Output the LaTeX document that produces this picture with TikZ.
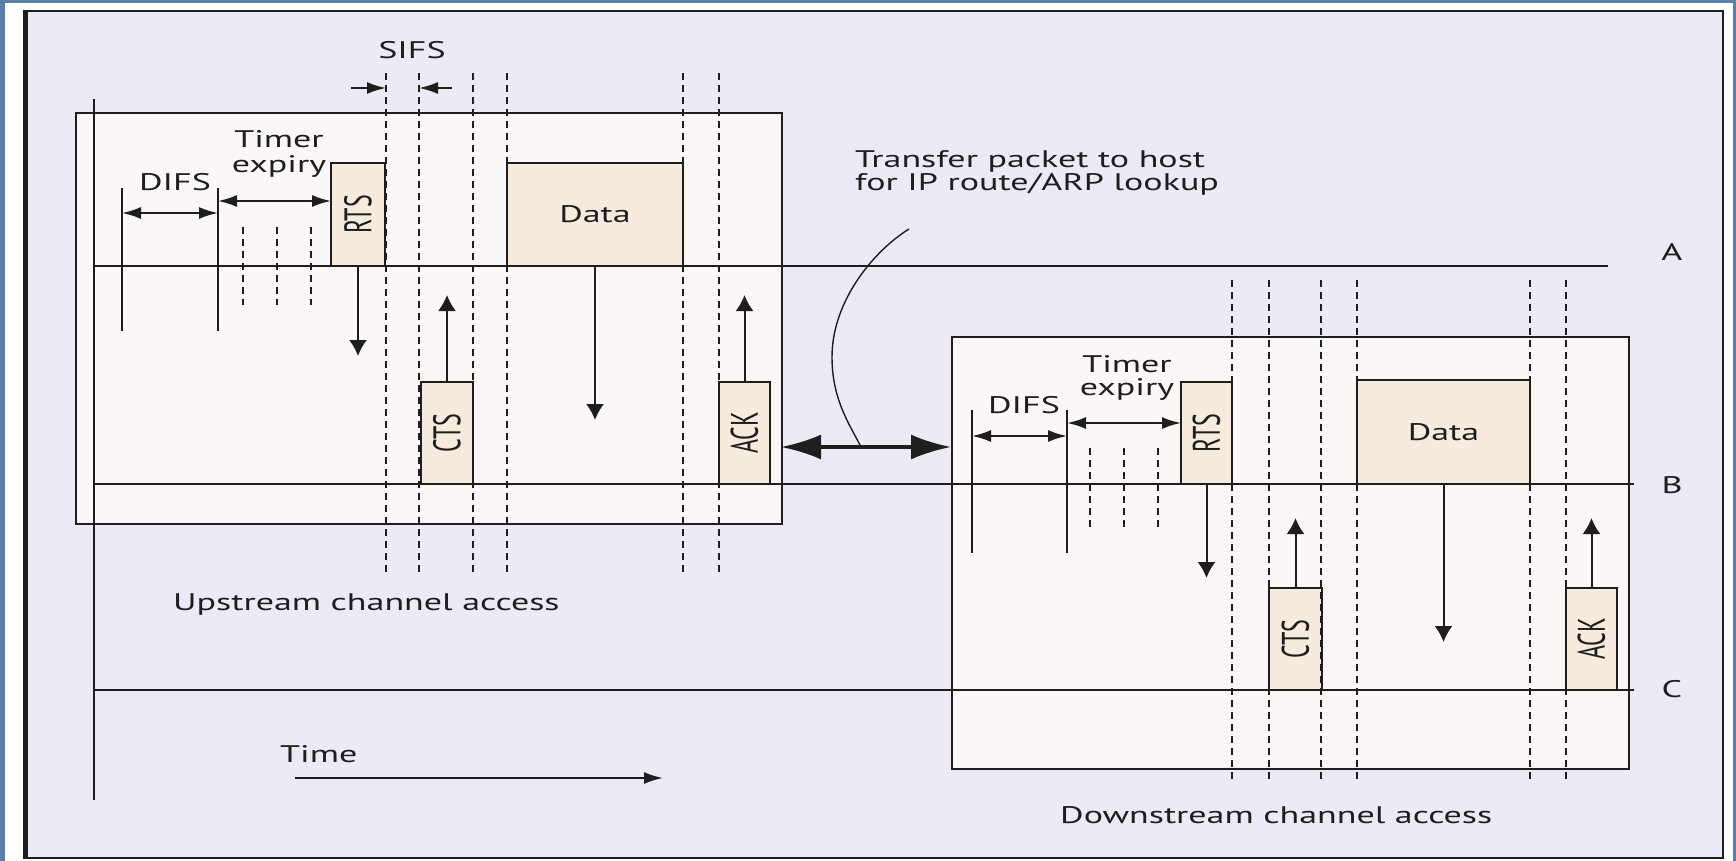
\documentclass[tikz,border=0pt]{standalone}
\usepackage{fontspec}
\usepackage{graphicx}
\setmainfont{PT Sans}[FakeStretch=1.5]
\newfontfamily\rotfont{PT Sans}
\usetikzlibrary{arrows.meta}
\definecolor{outerblue}{HTML}{5B7FA8}
\definecolor{panel}{HTML}{EDEAF6}
\definecolor{boxfill}{HTML}{FCF7F7}
\definecolor{pktfill}{HTML}{F6EBDC}
\definecolor{ink}{HTML}{1E1E1E}
\begin{document}
\begin{tikzpicture}[x=1pt,y=-1pt,
  bigbox/.style={draw=ink, line width=2pt, fill=boxfill, inner sep=0pt, anchor=north west},
  pkt/.style={draw=ink, line width=2pt, fill=pktfill, inner sep=0pt, text=ink, font=\fontsize{24}{25}\selectfont},
  lbl/.style={text=ink, inner sep=0pt, font=\fontsize{24}{25}\selectfont},
  axis/.style={draw=ink, line width=2pt},
  dsh/.style={draw=ink, line width=2pt, dash pattern=on 7pt off 5pt},
  harr/.style={{Latex[length=19pt,width=12pt]}-{Latex[length=19pt,width=12pt]}},
  sarr/.style={-{Latex[length=19pt,width=12pt]}},
  varr/.style={-{Latex[length=16pt,width=18pt]}},
  bigarr/.style={{Latex[length=40pt,width=25pt]}-{Latex[length=40pt,width=25pt]}},
]
\useasboundingbox (0,0) rectangle (1736,861);
% frame
\fill[outerblue] (0,0) rectangle (1736,861);
\fill[white] (5,3) rectangle (1733,861);
\draw[ink, line width=2.5pt, fill=panel] (25,11) rectangle (1723,858);
\draw[ink, line width=5pt] (25,9.75) -- (25,859.25);

% channel access boxes
\node[bigbox, minimum width=706pt, minimum height=411pt] (up) at (75,112) {};
\node[bigbox, minimum width=677pt, minimum height=432pt] (down) at (951,336) {};

% time axis and station lines
\coordinate (T0) at (94,99);  \coordinate (T1) at (94,800);
\coordinate (A0) at (94,266); \coordinate (A1) at (1608,266);
\coordinate (B0) at (94,484); \coordinate (B1) at (1634,484);
\coordinate (C0) at (94,690); \coordinate (C1) at (1634,690);
\draw[axis] (T0) -- (T1);
\draw[axis] (A0) -- (A1);
\draw[axis] (B0) -- (B1);
\draw[axis] (C0) -- (C1);
\node[lbl, anchor=base] (lA) at (1672,260) {A};
\node[lbl, anchor=base] (lB) at (1672,493) {B};
\node[lbl, anchor=base] (lC) at (1672,697) {C};

% ---------- upstream ----------
\draw[axis] (122,188) -- (122,331);
\draw[axis] (218,188) -- (218,331);
\draw[axis, harr] (122,213) -- (218,213);
\draw[axis, harr] (218,201) -- (331,201);
\foreach \x in {243,277,311} \draw[dsh] (\x,227) -- (\x,305);
\node[lbl, anchor=base] (difs1) at (175,190) {DIFS};
\node[lbl, anchor=north, align=center] (tmr1) at (279,130) {Timer\\expiry};

\node[pkt, rotate=90, minimum width=103pt, minimum height=54pt] (rts1) at (358,214.5) {\rotfont\scalebox{1}[1.6]{RTS}};
\node[pkt, minimum width=176pt, minimum height=103pt] (data1) at (595,214.5) {Data};
\node[pkt, rotate=90, minimum width=102pt, minimum height=52pt] (cts1) at (447,433) {\rotfont\scalebox{1}[1.6]{CTS}};
\node[pkt, rotate=90, minimum width=102pt, minimum height=51pt] (ack1) at (744.5,433) {\rotfont\scalebox{1}[1.6]{ACK}};

\coordinate (rts1t) at (358,356);
\coordinate (data1t) at (595,420);
\coordinate (cts1t) at (447,295);
\coordinate (ack1t) at (744.5,295);
\draw[axis, varr] (rts1.west) -- (rts1t);
\draw[axis, varr] (data1.south) -- (data1t);
\draw[axis, varr] (cts1.east) -- (cts1t);
\draw[axis, varr] (ack1.east) -- (ack1t);

\foreach \x in {386,419,473,507,683,719} \draw[dsh] (\x,73) -- (\x,573);
\node[lbl, anchor=base] (sifs) at (412,59) {SIFS};
\draw[axis, sarr] (351,88) -- (386,88);
\draw[axis, sarr] (452,88) -- (419,88);

\node[lbl, anchor=base west] (upl) at (173,610) {Upstream channel access};

% ---------- downstream ----------
\draw[axis] (972,410) -- (972,553);
\draw[axis] (1067,410) -- (1067,553);
\draw[axis, harr] (972,436) -- (1067,436);
\draw[axis, harr] (1067,423) -- (1181,423);
\foreach \x in {1090,1124,1158} \draw[dsh] (\x,448) -- (\x,528);
\node[lbl, anchor=base] (difs2) at (1024,413) {DIFS};
\node[lbl, anchor=north, align=center, font=\fontsize{24}{23.5}\selectfont] (tmr2) at (1127,355) {Timer\\expiry};

\node[pkt, rotate=90, minimum width=102pt, minimum height=51pt] (rts2) at (1206.5,433) {\rotfont\scalebox{1}[1.6]{RTS}};
\node[pkt, minimum width=173pt, minimum height=104pt] (data2) at (1443.5,432) {Data};
\node[pkt, rotate=90, minimum width=102pt, minimum height=53pt] (cts2) at (1295.5,639) {\rotfont\scalebox{1}[1.6]{CTS}};
\node[pkt, rotate=90, minimum width=102pt, minimum height=51pt] (ack2) at (1591.5,639) {\rotfont\scalebox{1}[1.6]{ACK}};

\coordinate (rts2t) at (1206.5,578);
\coordinate (data2t) at (1443.5,642);
\coordinate (cts2t) at (1295.5,518);
\coordinate (ack2t) at (1591.5,518);
\draw[axis, varr] (rts2.west) -- (rts2t);
\draw[axis, varr] (data2.south) -- (data2t);
\draw[axis, varr] (cts2.east) -- (cts2t);
\draw[axis, varr] (ack2.east) -- (ack2t);

\foreach \x in {1232,1269,1321,1357,1530,1566} \draw[dsh] (\x,280) -- (\x,781);

\node[lbl, anchor=base west] (downl) at (1060,823) {Downstream channel access};

% ---------- transfer ----------
\coordinate (xl) at (781,447);
\coordinate (xr) at (951,447);
\draw[ink, line width=3.5pt, bigarr] (xl) -- (xr);
\coordinate (cv0) at (909,229);
\coordinate (cv1) at (861,447);
\draw[ink, line width=1.4pt] (cv0) .. controls (875,250) and (832,300) .. (832,357)
   .. controls (832,400) and (850,425) .. (cv1);
\node[lbl, anchor=north west, align=left, font=\fontsize{24}{23.5}\selectfont] (xfer) at (855,150) {Transfer packet to host\\for IP route/ARP lookup};

% ---------- time ----------
\node[lbl, anchor=base west] (time) at (280,762) {Time};
\coordinate (tm0) at (295,778);
\coordinate (tm1) at (663,778);
\draw[axis, sarr] (tm0) -- (tm1);
\end{tikzpicture}
\end{document}
